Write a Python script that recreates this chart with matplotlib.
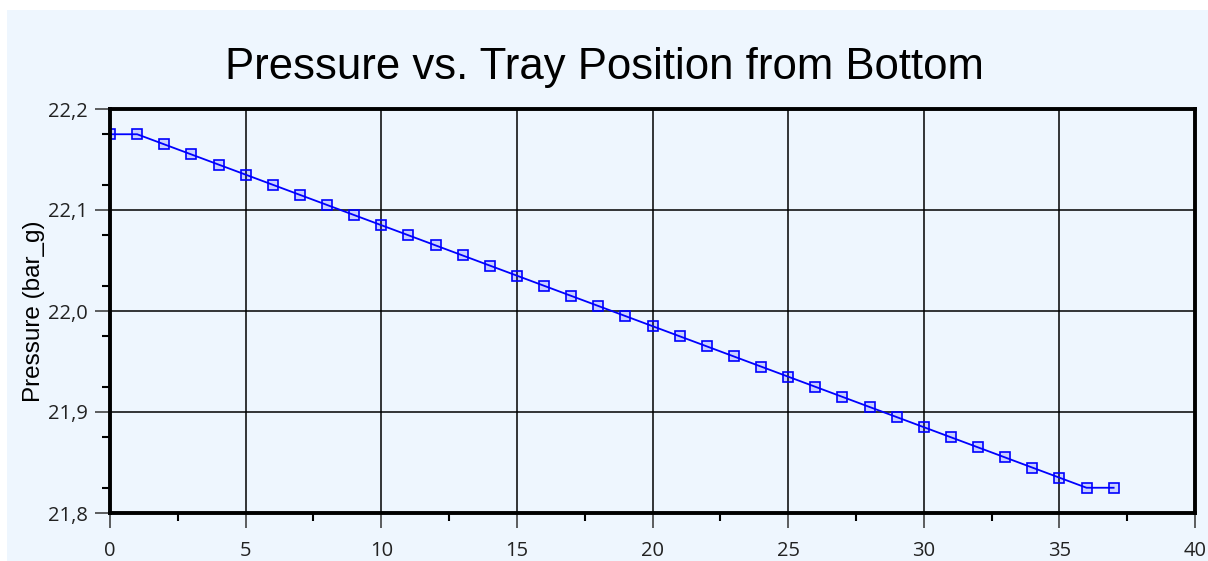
import matplotlib
matplotlib.use("Agg")
import matplotlib.pyplot as plt
from matplotlib.ticker import MultipleLocator, FuncFormatter, FixedLocator
from matplotlib.patches import Rectangle

trays = list(range(38))
pressure = [22.175, 22.175, 22.165, 22.155, 22.145, 22.135, 22.125, 22.115, 22.105, 22.095,
            22.085, 22.075, 22.065, 22.055, 22.045, 22.035, 22.025, 22.015, 22.005, 21.995,
            21.985, 21.975, 21.965, 21.955, 21.945, 21.935, 21.925, 21.915, 21.905, 21.895,
            21.885, 21.875, 21.865, 21.855, 21.845, 21.835, 21.825, 21.825]

title = "Pressure vs. Tray Position from Bottom"
ylabel = "Pressure (bar_g)"

W, H = 1208, 561
fig = plt.figure(figsize=(W / 100, H / 100), dpi=100)
fig.patch.set_facecolor("white")
bg = "#EEF6FE"
fig.patches.append(Rectangle((7 / W, -0.01), 1.01 - 7 / W, 1.01 - 10 / H, transform=fig.transFigure,
                             facecolor=bg, edgecolor="none", zorder=-10))

ax = fig.add_axes([110 / W, 1 - 513 / H, (1195 - 110) / W, (513 - 109) / H])
ax.set_facecolor(bg)

ax.plot(trays, pressure, color="#0000FF", lw=1.3, marker="s", markersize=7,
        markerfacecolor=(0.0, 0.0, 1.0, 0.15), markeredgecolor="#0000FF",
        markeredgewidth=1.2, zorder=3)

ax.set_xlim(0, 40)
ax.set_ylim(21.8, 22.2)
ax.xaxis.set_major_locator(MultipleLocator(5))
ax.xaxis.set_minor_locator(MultipleLocator(2.5))
ax.yaxis.set_major_locator(MultipleLocator(0.1))
ax.yaxis.set_minor_locator(FixedLocator([21.825, 21.875, 21.925, 21.975, 22.025, 22.075, 22.125, 22.175]))
ax.yaxis.set_major_formatter(FuncFormatter(lambda v, p: f"{v:.1f}".replace(".", ",")))
ax.xaxis.set_major_formatter(FuncFormatter(lambda v, p: f"{int(round(v))}"))

ax.grid(True, which="major", color="black", lw=1.1, zorder=1)
for s in ax.spines.values():
    s.set_linewidth(2.8)
    s.set_color("black")
    s.set_zorder(4)

ax.tick_params(axis="both", which="major", direction="out", length=11, width=1.1,
               color="#333333", labelsize=14.5, labelcolor="#222222")
ax.tick_params(axis="y", which="major", pad=5)
ax.tick_params(axis="x", which="major", pad=9)
ax.tick_params(axis="both", which="minor", direction="out", length=6, width=1.5,
               color="black")
for lab in ax.get_xticklabels() + ax.get_yticklabels():
    lab.set_fontfamily(["Open Sans", "DejaVu Sans"])

ax.set_ylabel(ylabel, fontsize=17.5, fontfamily="Liberation Sans", color="black")
ax.yaxis.set_label_coords(-0.0595, 0.5)

fig.text(0.5, 1 - 67 / H, title, ha="center", va="center", fontsize=31.5,
         fontfamily="Liberation Sans", color="black")

fig.savefig("out.png", dpi=100, facecolor=fig.get_facecolor())
